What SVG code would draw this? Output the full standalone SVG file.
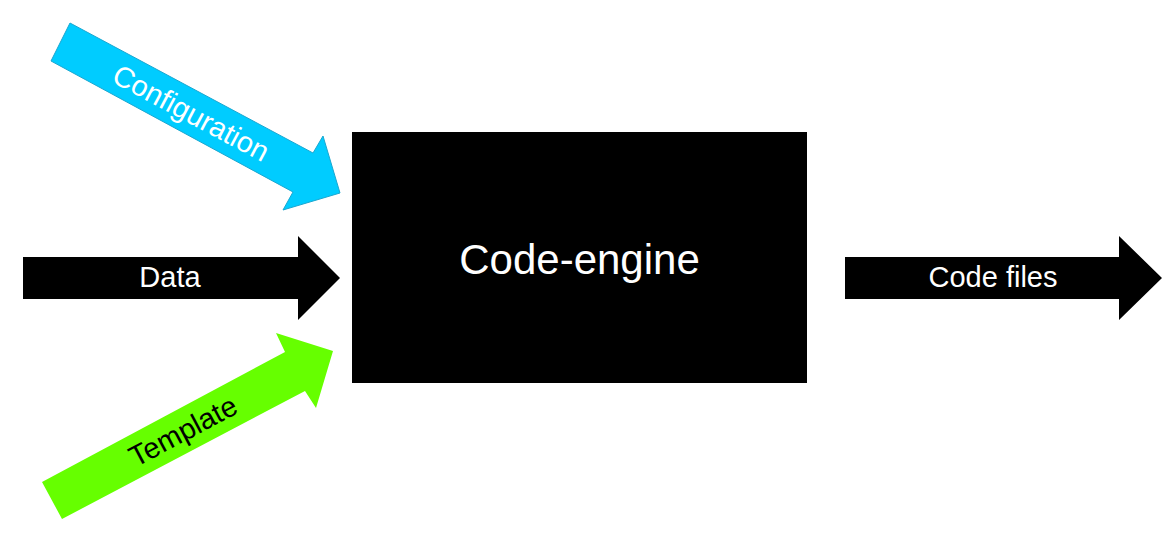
<svg xmlns="http://www.w3.org/2000/svg" width="1171" height="548" viewBox="0 0 1171 548">
<style>
text{font-family:"Liberation Sans",Arial,sans-serif;text-anchor:middle;}
.lbl{font-size:29px;fill:#fff;}
</style>
<rect width="1171" height="548" fill="#fff"/>
<g id="connectors">
<g id="config-arrow">
<polygon points="70,23 313,153 323,136 340,193 283,210 293,192 51,61" fill="#00CCFF" stroke="#1AA7D0" stroke-width="1"/>
<text class="lbl" x="191" y="113" dominant-baseline="central" transform="rotate(28.1 191 113)">Configuration</text>
</g>
<g id="data-arrow">
<polygon points="23,257 298,257 298,236 340,278 298,320 298,299 23,299" fill="#000"/>
<text class="lbl" x="170" y="287">Data</text>
</g>
<g id="template-arrow">
<polygon points="42,482 285,352 276,333 333,351 316,408 305,391 62,519" fill="#66FF00"/>
<text class="lbl" x="183" y="431" dominant-baseline="central" style="fill:#000" transform="rotate(-28.1 183 431)">Template</text>
</g>
<g id="output-arrow">
<polygon points="845,257 1119,257 1119,236 1162,278 1119,320 1119,299 845,299" fill="#000"/>
<text class="lbl" x="993" y="287">Code files</text>
</g>
</g>
<g id="code-engine">
<rect x="352" y="132" width="455" height="251" fill="#000"/>
<text x="579.5" y="274" font-size="42" fill="#fff">Code-engine</text>
</g>
</svg>
